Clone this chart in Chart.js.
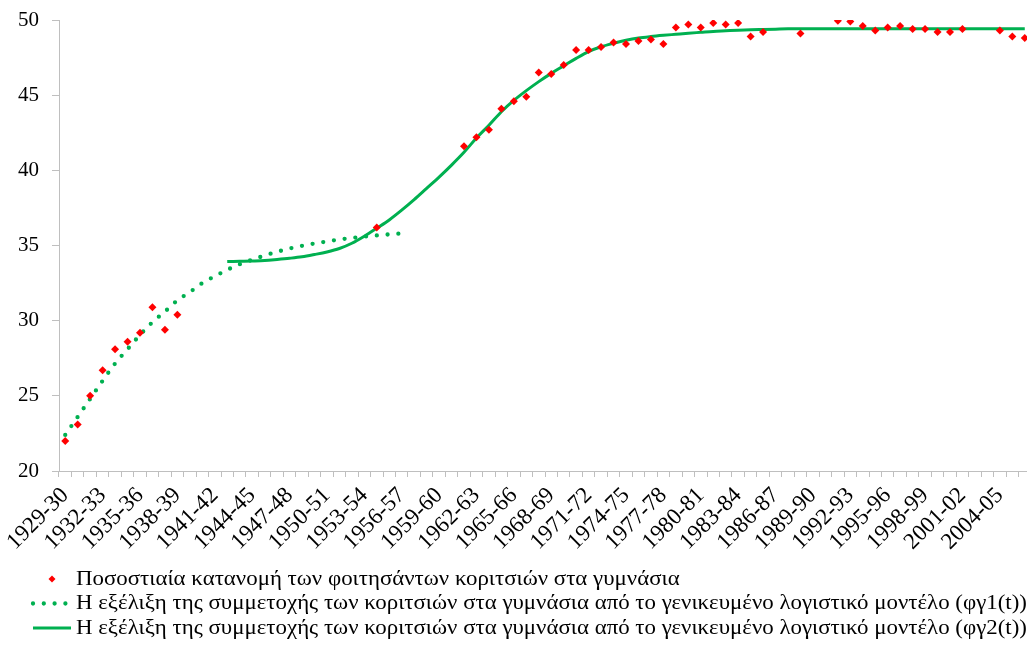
<!DOCTYPE html>
<html>
<head>
<meta charset="utf-8">
<script src="https://cdn.jsdelivr.net/npm/chart.js@4"></script>
<style>
  html, body { margin: 0; padding: 0; background: #fff; overflow: hidden; }
  #zone { width: 1035px; height: 646px; }
</style>
</head>
<body>
<div id="zone"><canvas id="canvas" width="1035" height="646"></canvas></div>
<script>
// Années scolaires 1929-30 ... 2006-07
const annees = [];
for (let a = 1929; a <= 2006; a++) {
  annees.push(a + "-" + String((a + 1) % 100).padStart(2, "0"));
}

// Pourcentage observé des filles dans les gymnases (null = pas de donnée)
const observe = [
  22.0, 23.1, 25.0, 26.7, 28.1, 28.6, 29.2, 30.9, 29.4, 30.4,
  null, null, null, null, null, null, null, null, null, null,
  null, null, null, null, null, 36.2, null, null, null, null,
  null, null, 41.6, 42.2, 42.7, 44.1, 44.6, 44.9, 46.5, 46.4,
  47.0, 48.0, 48.0, 48.2, 48.5, 48.4, 48.6, 48.7, 48.4, 49.5,
  49.7, 49.5, 49.8, 49.7, 49.8, 48.9, 49.2, null, null, 49.1,
  null, null, 49.95, 49.9, 49.6, 49.3, 49.5, 49.6, 49.4, 49.4,
  49.2, 49.2, 49.4, null, null, 49.3, 48.9, 48.8
];

// Modèle φγ1(t) : de 1929-30 à 1956-57
const debutPhi1 = 0;
const phi1 = [
  22.4, 23.6, 24.8, 26.0, 27.15, 28.1, 29.05, 29.9, 30.6, 31.35,
  31.9, 32.5, 32.95, 33.38, 33.75, 34.05, 34.33, 34.58, 34.8, 34.98,
  35.13, 35.27, 35.4, 35.5, 35.59, 35.67, 35.74, 35.8
];

// Modèle φγ2(t) : de 1942-43 à 2006-07
const debutPhi2 = 13;
const phi2 = [
  33.93, 33.95, 33.97, 34.0, 34.07, 34.15, 34.25, 34.4, 34.57, 34.8,
  35.15, 35.62, 36.15, 36.7, 37.35, 38.05, 38.8, 39.55, 40.35, 41.2,
  42.15, 43.0, 43.9, 44.65, 45.3, 45.9, 46.45, 46.95, 47.45, 47.9,
  48.22, 48.45, 48.65, 48.8, 48.9, 48.98, 49.05, 49.12, 49.18, 49.24,
  49.28, 49.32, 49.35, 49.37, 49.39, 49.41, 49.42, 49.42, 49.42, 49.42,
  49.42, 49.42, 49.42, 49.42, 49.42, 49.42, 49.42, 49.42, 49.42, 49.42,
  49.42, 49.42, 49.42, 49.42, 49.42
];

const libelles = [
  "Ποσοστιαία κατανομή των φοιτησάντων κοριτσιών στα γυμνάσια",
  "Η εξέλιξη της συμμετοχής των κοριτσιών στα γυμνάσια από το γενικευμένο λογιστικό μοντέλο (φγ1(t))",
  "Η εξέλιξη της συμμετοχής των κοριτσιών στα γυμνάσια από το γενικευμένο λογιστικό μοντέλο (φγ2(t))"
];

// Placer une série sur l'axe complet
function caler(valeurs, debut) {
  const out = new Array(annees.length).fill(null);
  valeurs.forEach((v, i) => { out[debut + i] = v; });
  return out;
}

const VERT = "#00b050";
const GRIS = "#bfbfbf";
const POLICE = "Liberation Serif";

// Légende dessinée à la main sous le graphique
const legendeBas = {
  id: "legendeBas",
  afterDraw(chart) {
    const ctx = chart.ctx;
    const xDebut = 33, xFin = 71, xTexte = 76, y0 = 579, pas = 24.5;
    ctx.save();
    ctx.textBaseline = "middle";
    chart.data.datasets.forEach((ds, i) => {
      const y = y0 + i * pas;
      if (i === 0) {
        // petit losange rouge
        ctx.fillStyle = "red";
        ctx.beginPath();
        ctx.moveTo(52, y - 3.5);
        ctx.lineTo(55.5, y);
        ctx.lineTo(52, y + 3.5);
        ctx.lineTo(48.5, y);
        ctx.closePath();
        ctx.fill();
      } else {
        ctx.strokeStyle = ds.borderColor;
        ctx.lineWidth = ds.borderWidth;
        ctx.lineCap = ds.borderCapStyle || "butt";
        ctx.setLineDash(ds.borderDash || []);
        ctx.beginPath();
        ctx.moveTo(xDebut, y);
        ctx.lineTo(xFin, y);
        ctx.stroke();
        ctx.setLineDash([]);
      }
      // texte légèrement étiré comme sur l'original
      ctx.save();
      ctx.translate(xTexte, y);
      ctx.scale(1.09, 1);
      ctx.font = "21px '" + POLICE + "'";
      ctx.fillStyle = "#000";
      ctx.fillText(ds.label, 0, 0);
      ctx.restore();
    });
    ctx.restore();
  }
};

const ctx = document.getElementById("canvas").getContext("2d");

window.myChart = new Chart(ctx, {
  type: "line",
  data: {
    labels: annees,
    datasets: [
      {
        label: libelles[0],
        data: observe,
        showLine: false,
        pointStyle: "rectRot",
        pointRadius: 4,
        pointBackgroundColor: "red",
        pointBorderWidth: 0,
        borderColor: "red",
        backgroundColor: "red",
      },
      {
        label: libelles[1],
        data: caler(phi1, debutPhi1),
        borderColor: VERT,
        borderWidth: 4.3,
        borderDash: [0, 10.8],
        borderCapStyle: "round",
        cubicInterpolationMode: "monotone",
        pointRadius: 0,
        spanGaps: false,
      },
      {
        label: libelles[2],
        data: caler(phi2, debutPhi2),
        borderColor: VERT,
        borderWidth: 3,
        cubicInterpolationMode: "monotone",
        pointRadius: 0,
        spanGaps: false,
      },
    ],
  },
  options: {
    responsive: false,
    animation: false,
    devicePixelRatio: 1,
    layout: { padding: { top: 20, left: 0, right: 0, bottom: 0 } },
    plugins: {
      legend: { display: false },
      tooltip: { enabled: false },
    },
    scales: {
      x: {
        type: "category",
        offset: true,
        grid: {
          offset: true,
          drawOnChartArea: false,
          drawTicks: true,
          tickLength: 6,
          color: GRIS,
        },
        border: { color: GRIS, width: 1 },
        ticks: {
          autoSkip: false,
          minRotation: 45,
          maxRotation: 45,
          padding: 5,
          color: "#000",
          font: { family: POLICE, size: 23 },
          callback: (v, i) => (i % 3 === 0 ? annees[i] : ""),
        },
        afterFit: (scale) => {
          scale.height = 175;
          scale.paddingRight = 0;
          scale.paddingLeft = 0;
        },
      },
      y: {
        min: 20,
        max: 50,
        grid: {
          drawOnChartArea: false,
          drawTicks: true,
          tickLength: 7,
          color: GRIS,
        },
        border: { color: GRIS, width: 1 },
        ticks: {
          stepSize: 5,
          padding: 13,
          color: "#000",
          font: { family: POLICE, size: 21 },
        },
        afterFit: (scale) => {
          scale.width = 59;
          scale.paddingTop = 0;
          scale.paddingBottom = 0;
        },
      },
    },
  },
  plugins: [legendeBas],
});
</script>
</body>
</html>
